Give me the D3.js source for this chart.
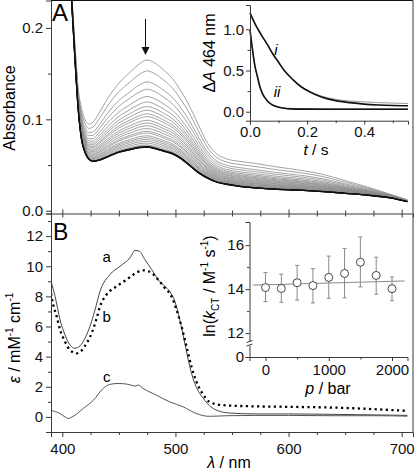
<!DOCTYPE html>
<html><head><meta charset="utf-8">
<script src="https://cdn.jsdelivr.net/npm/d3@7"></script>
<style>body{margin:0;background:#fff} svg{display:block}</style>
</head><body><svg id="c" width="415" height="470"></svg>
<script>
// ---------- Panel A: spectra ----------
const wlA = [390,395,400,405,408,411,414,417,420,423,427,432,440,450,460,468,475,482,490,498,505,512,520,528,535,545,555,570,590,610,630,650,670,690,705];
const specFirst = [0.62,0.53,0.43,0.31,0.245,0.185,0.135,0.112,0.100,0.095,0.097,0.106,0.123,0.140,0.152,0.161,0.1655,0.162,0.154,0.144,0.131,0.116,0.095,0.075,0.064,0.057,0.0545,0.052,0.048,0.0445,0.040,0.033,0.026,0.018,0.012];
const specLast = [0.62,0.52,0.42,0.30,0.235,0.17,0.112,0.078,0.064,0.057,0.054,0.055,0.059,0.064,0.067,0.069,0.0695,0.068,0.065,0.062,0.057,0.050,0.042,0.036,0.032,0.029,0.027,0.025,0.0235,0.0225,0.021,0.019,0.017,0.014,0.010];
const peakHeights = [0.165,0.153,0.141,0.133,0.125,0.119,0.114,0.110,0.106,0.103,0.099,0.096,0.093,0.090,0.087,0.085,0.082,0.080,0.078,0.076,0.074,0.072,0.071,0.070,0.0695,0.0695];
const yTicksA = [0, 0.1, 0.2];

// ---------- Inset A: kinetics ----------
const tFit = [0,0.02,0.04,0.06,0.08,0.10,0.12,0.15,0.18,0.21,0.25,0.30,0.35,0.40,0.45,0.50,0.553];
const dAiFit = [1.20,1.05,0.93,0.82,0.70,0.60,0.50,0.39,0.30,0.24,0.18,0.135,0.11,0.092,0.082,0.076,0.072];
const dAiData = [1.20,1.05,0.93,0.82,0.70,0.60,0.50,0.39,0.30,0.24,0.19,0.15,0.13,0.12,0.11,0.105,0.10];
const tII = [0,0.005,0.01,0.0175,0.025,0.035,0.045,0.0585,0.075,0.094,0.12,0.14,0.2,0.3,0.4,0.553];
const dAiiFit = [0.99,0.85,0.72,0.55,0.44,0.30,0.21,0.14,0.09,0.061,0.042,0.035,0.031,0.03,0.03,0.03];
const dAiiData = [0.99,0.85,0.72,0.55,0.44,0.30,0.21,0.14,0.09,0.062,0.045,0.04,0.038,0.036,0.035,0.034];
const xTicksIA = [0, 0.2, 0.4];
const yTicksIA = [0, 0.5, 1.0];

// ---------- Panel B: spectra a, b, c ----------
const wlBa = [390,393.6,398,402.4,406.8,411.2,415.6,420,424.4,428.9,433.3,442,451,459.8,464.2,468,473,479,484.7,490.6,495,499.5,503.9,508.3,512.7,517.1,521.5,526,530,535,540,550,570,600,630,660,690,705];
const epsA = [9.0,8.0,6.44,5.44,4.78,4.56,4.71,5.22,6.0,7.1,8.33,9.44,10.0,10.56,11.05,11.0,10.44,9.78,9.1,8.67,8.33,7.67,6.44,4.89,3.33,2.22,1.56,1.1,0.75,0.5,0.35,0.25,0.2,0.2,0.18,0.15,0.12,0.1];
const wlBb = [390,392,395,398,402.4,406.8,412.7,417,421.5,426,430.4,433.3,439,448,456.8,462.7,471.5,478.9,484.7,490.6,496.5,501,505.4,509.8,514.2,518.6,524.4,530,540,560,600,640,680,705];
const epsB = [8.2,7.44,6.67,5.78,5.0,4.44,4.22,4.4,4.89,5.56,6.56,7.33,8.11,8.67,9.11,9.44,9.73,9.56,9.11,8.56,8.0,7.11,6.0,4.67,3.33,2.33,1.5,1.0,0.8,0.72,0.67,0.62,0.5,0.4];
const wlBc = [390,398,402.4,405,409.7,418.5,427.4,436.2,442,449.4,456.8,465,467,471.5,483.3,495,506.8,518.6,530,545,570,600,640,680,705];
const epsC = [0.44,0.22,0.0,-0.1,0.04,0.56,1.1,1.9,2.16,2.22,2.18,2.05,2.12,1.89,1.44,1.0,0.67,0.22,0.04,0.08,0.1,0.1,0.08,0.08,0.05];
const xTicksB = [400, 500, 600, 700];
const yTicksB = [0, 2, 4, 6, 8, 10, 12];

// ---------- Inset B: pressure dependence ----------
const pressure = [0,250,500,750,1000,1250,1500,1750,2000];
const lnk = [14.07,14.03,14.29,14.16,14.53,14.71,15.22,14.62,14.02];
const lnkUpper = [14.75,14.68,15.08,14.93,15.5,15.85,16.37,15.45,14.55];
const lnkLower = [13.43,13.40,13.50,13.37,13.58,13.60,14.10,13.77,13.47];
const fitP = [-200, 2200];
const fitLnk = [14.18, 14.37];
const xTicksIB = [0, 1000, 2000];
const yTicksIB = [0, 12, 14, 16];

// ================= drawing =================
const FONT = '"Liberation Sans", Arial, Helvetica, sans-serif';
const AX = '#3a3a3a';
const svg = d3.select('#c');

function addAxis(gen, tr, fs, noDomain){
  const g = svg.append('g').attr('transform', tr).call(gen);
  g.attr('font-family', FONT).attr('font-size', fs);
  g.selectAll('path,line').attr('stroke', AX).attr('stroke-width', 1);
  g.selectAll('text').attr('fill', '#111');
  if (noDomain) g.select('.domain').remove();
  return g;
}

// scales
const xA = d3.scaleLinear().domain([390, 710]).range([51, 413]);
const yA = d3.scaleLinear().domain([-0.003, 0.23]).range([213.5, 0.5]);
const yB = d3.scaleLinear().domain([-1, 13.5]).range([432, 213.5]);

// clips
const defs = svg.append('defs');
defs.append('clipPath').attr('id','clipA').append('rect').attr('x',51).attr('y',0.5).attr('width',362).attr('height',213);
defs.append('clipPath').attr('id','clipB').append('rect').attr('x',51).attr('y',213.5).attr('width',362).attr('height',218.5);

// ---- Panel A spectra
const iPk = wlA.indexOf(475);
const pkFirst = specFirst[iPk], pkLast = specLast[iPk];
const lineA = d3.line().x(d => xA(d[0])).y(d => yA(d[1])).curve(d3.curveMonotoneX);
const gA = svg.append('g').attr('clip-path','url(#clipA)');
peakHeights.forEach((p, k) => {
  const f = (p - pkLast) / (pkFirst - pkLast);
  const pts = wlA.map((w, i) => [w, specLast[i] + f * (specFirst[i] - specLast[i])]);
  const dark = k >= peakHeights.length - 3;
  gA.append('path').attr('d', lineA(pts)).attr('fill','none')
    .attr('stroke', dark ? '#111' : '#8c8c8c').attr('stroke-width', dark ? 1.3 : 0.8);
});

// arrow
svg.append('line').attr('x1',145.5).attr('x2',145.5).attr('y1',19).attr('y2',50).attr('stroke','#111').attr('stroke-width',1);
svg.append('path').attr('d','M141.5,47 L149.5,47 L145.5,55 Z').attr('fill','#111');

// Panel A axes
addAxis(d3.axisLeft(yA).tickValues(yTicksA).tickFormat(d3.format('.1f')).tickSize(5).tickPadding(3), 'translate(51,0)', 15);
addAxis(d3.axisLeft(yA).tickValues([0.05,0.15]).tickFormat('').tickSize(3), 'translate(51,0)', 15, true);
// frame
svg.append('line').attr('x1',51).attr('x2',413).attr('y1',0.5).attr('y2',0.5).attr('stroke','#111');
svg.append('line').attr('x1',413).attr('x2',413).attr('y1',0.5).attr('y2',432).attr('stroke',AX);
// shared x line between A and B with crossing ticks
const minorX = d3.range(400, 710, 25).filter(v => v % 100 !== 0);
addAxis(d3.axisBottom(xA).tickValues(xTicksB).tickFormat('').tickSize(4), 'translate(0,213.5)', 15);
addAxis(d3.axisTop(xA).tickValues(xTicksB).tickFormat('').tickSize(4), 'translate(0,213.5)', 15, true);
addAxis(d3.axisBottom(xA).tickValues(minorX).tickFormat('').tickSize(3), 'translate(0,213.5)', 15, true);
addAxis(d3.axisTop(xA).tickValues(minorX).tickFormat('').tickSize(3), 'translate(0,213.5)', 15, true);

svg.append('text').attr('x',52).attr('y',21).attr('font-family',FONT).attr('font-size',24).text('A');
svg.append('text').attr('transform','translate(15,108) rotate(-90)').attr('text-anchor','middle')
  .attr('font-family',FONT).attr('font-size',16).text('Absorbance');

// ---- Inset A
const xI = d3.scaleLinear().domain([0, 0.553]).range([250, 408]);
const yI = d3.scaleLinear().domain([-0.109, 1.295]).range([120.7, 5]);
const lineI = d3.line().x(d => xI(d[0])).y(d => yI(d[1])).curve(d3.curveMonotoneX);
const zip = (a, b) => a.map((v, i) => [v, b[i]]);
svg.append('path').attr('d', lineI(zip(tFit, dAiData))).attr('fill','none').attr('stroke','#999').attr('stroke-width',1);
svg.append('path').attr('d', lineI(zip(tII, dAiiData))).attr('fill','none').attr('stroke','#999').attr('stroke-width',1);
svg.append('path').attr('d', lineI(zip(tFit, dAiFit))).attr('fill','none').attr('stroke','#111').attr('stroke-width',1.6);
svg.append('path').attr('d', lineI(zip(tII, dAiiFit))).attr('fill','none').attr('stroke','#111').attr('stroke-width',1.6);
addAxis(d3.axisLeft(yI).tickValues(yTicksIA).tickFormat(d3.format('.1f')).tickSize(4).tickPadding(2), 'translate(250,0)', 15);
addAxis(d3.axisLeft(yI).tickValues([0.25,0.75]).tickFormat('').tickSize(2.5), 'translate(250,0)', 15, true);
addAxis(d3.axisBottom(xI).tickValues(xTicksIA).tickFormat(d3.format('.1f')).tickSize(4).tickPadding(2), 'translate(0,120.7)', 15);
addAxis(d3.axisBottom(xI).tickValues([0.1,0.3,0.5]).tickFormat('').tickSize(2.5), 'translate(0,120.7)', 15, true);
svg.append('text').attr('x',276).attr('y',55).attr('font-family',FONT).attr('font-size',15).attr('font-style','italic').attr('text-anchor','middle').text('i');
svg.append('text').attr('x',277).attr('y',97).attr('font-family',FONT).attr('font-size',15).attr('font-style','italic').attr('text-anchor','middle').text('ii');
{
  const t = svg.append('text').attr('transform','translate(215,53) rotate(-90)').attr('text-anchor','middle')
    .attr('font-family',FONT).attr('font-size',16);
  t.append('tspan').text('\u0394');
  t.append('tspan').attr('font-style','italic').text('A');
  t.append('tspan').text(' 464 nm');
}
{
  const t = svg.append('text').attr('x',316).attr('y',155).attr('text-anchor','middle').attr('font-family',FONT).attr('font-size',15.5);
  t.append('tspan').attr('font-style','italic').text('t');
  t.append('tspan').text(' / s');
}

// ---- Panel B spectra
const lineB = d3.line().x(d => xA(d[0])).y(d => yB(d[1])).curve(d3.curveMonotoneX);
const gB = svg.append('g').attr('clip-path','url(#clipB)');
gB.append('path').attr('d', lineB(zip(wlBa, epsA))).attr('fill','none').attr('stroke','#444').attr('stroke-width',1);
gB.append('path').attr('d', lineB(zip(wlBc, epsC))).attr('fill','none').attr('stroke','#555').attr('stroke-width',1);
gB.append('path').attr('d', lineB(zip(wlBb, epsB))).attr('fill','none').attr('stroke','#000')
  .attr('stroke-width',2.3).attr('stroke-dasharray','2.2 3.4');

addAxis(d3.axisLeft(yB).tickValues(yTicksB).tickSize(5).tickPadding(3), 'translate(51,0)', 15);
addAxis(d3.axisLeft(yB).tickValues([1,3,5,7,9,11,13]).tickFormat('').tickSize(3), 'translate(51,0)', 15, true);
addAxis(d3.axisBottom(xA).tickValues(xTicksB).tickFormat(d3.format('d')).tickSize(5).tickPadding(6), 'translate(0,432)', 15);
addAxis(d3.axisBottom(xA).tickValues(minorX).tickFormat('').tickSize(3), 'translate(0,432)', 15, true);

['a','b','c'].forEach((s, i) => {
  svg.append('text').attr('x',106.7).attr('y',[262,322,382][i]).attr('text-anchor','middle')
    .attr('font-family',FONT).attr('font-size',15).text(s);
});
svg.append('text').attr('x',53).attr('y',240).attr('font-family',FONT).attr('font-size',23).text('B');
{
  const t = svg.append('text').attr('transform','translate(20,338) rotate(-90)').attr('text-anchor','middle')
    .attr('font-family',FONT).attr('font-size',16);
  t.append('tspan').attr('font-style','italic').text('\u03B5');
  t.append('tspan').text(' / mM');
  t.append('tspan').attr('font-size',10).attr('dy',-7).text('-1');
  t.append('tspan').attr('dy',7).text(' cm');
  t.append('tspan').attr('font-size',10).attr('dy',-7).text('-1');
}
{
  const t = svg.append('text').attr('x',229).attr('y',468).attr('text-anchor','middle').attr('font-family',FONT).attr('font-size',16);
  t.append('tspan').attr('font-style','italic').text('\u03BB');
  t.append('tspan').text(' / nm');
}

// ---- Inset B
const xP = d3.scaleLinear().domain([-253, 2245]).range([249.5, 407.5]);
const yP = d3.scaleLinear().domain([0, 11.45, 17.05]).range([357, 345.2, 222]);
svg.append('line').attr('x1',xP(fitP[0])).attr('x2',xP(fitP[1])).attr('y1',yP(fitLnk[0])).attr('y2',yP(fitLnk[1]))
  .attr('stroke','#8a8a8a').attr('stroke-width',1);
const gE = svg.append('g').attr('stroke','#8a8a8a').attr('stroke-width',1);
pressure.forEach((p, i) => {
  const x = xP(p);
  gE.append('line').attr('x1',x).attr('x2',x).attr('y1',yP(lnkUpper[i])).attr('y2',yP(lnkLower[i]));
  gE.append('line').attr('x1',x-2).attr('x2',x+2).attr('y1',yP(lnkUpper[i])).attr('y2',yP(lnkUpper[i]));
  gE.append('line').attr('x1',x-2).attr('x2',x+2).attr('y1',yP(lnkLower[i])).attr('y2',yP(lnkLower[i]));
});
svg.append('g').selectAll('circle').data(pressure).join('circle')
  .attr('cx', d => xP(d)).attr('cy', (d, i) => yP(lnk[i])).attr('r',4)
  .attr('fill','#fff').attr('stroke','#333').attr('stroke-width',0.9);

addAxis(d3.axisLeft(yP).tickValues(yTicksIB).tickFormat(d3.format('d')).tickSize(4).tickPadding(1.5), 'translate(249.5,0)', 15);
addAxis(d3.axisLeft(yP).tickValues([13,15]).tickFormat('').tickSize(2.5), 'translate(249.5,0)', 15, true);
addAxis(d3.axisBottom(xP).tickValues(xTicksIB).tickFormat(d3.format('d')).tickSize(4).tickPadding(3), 'translate(0,357)', 15);
addAxis(d3.axisBottom(xP).tickValues([500,1500]).tickFormat('').tickSize(2.5), 'translate(0,357)', 15, true);
// axis break
svg.append('rect').attr('x',246).attr('y',341.5).attr('width',7).attr('height',4).attr('fill','#fff');
svg.append('path').attr('d','M246.5,342.5 L252.5,340.5 M246.5,346 L252.5,344').attr('stroke',AX).attr('stroke-width',1).attr('fill','none');

{
  const t = svg.append('text').attr('transform','translate(215,286) rotate(-90)').attr('text-anchor','middle')
    .attr('font-family',FONT).attr('font-size',16);
  t.append('tspan').text('ln(');
  t.append('tspan').attr('font-style','italic').text('k');
  t.append('tspan').attr('font-size',10).attr('dy',4).text('CT');
  t.append('tspan').attr('dy',-4).text(' / M');
  t.append('tspan').attr('font-size',10).attr('dy',-7).text('-1');
  t.append('tspan').attr('dy',7).text(' s');
  t.append('tspan').attr('font-size',10).attr('dy',-7).text('-1');
  t.append('tspan').attr('dy',7).text(')');
}
{
  const t = svg.append('text').attr('x',328).attr('y',394).attr('text-anchor','middle').attr('font-family',FONT).attr('font-size',16);
  t.append('tspan').attr('font-style','italic').text('p');
  t.append('tspan').text(' / bar');
}
</script>
</body></html>
